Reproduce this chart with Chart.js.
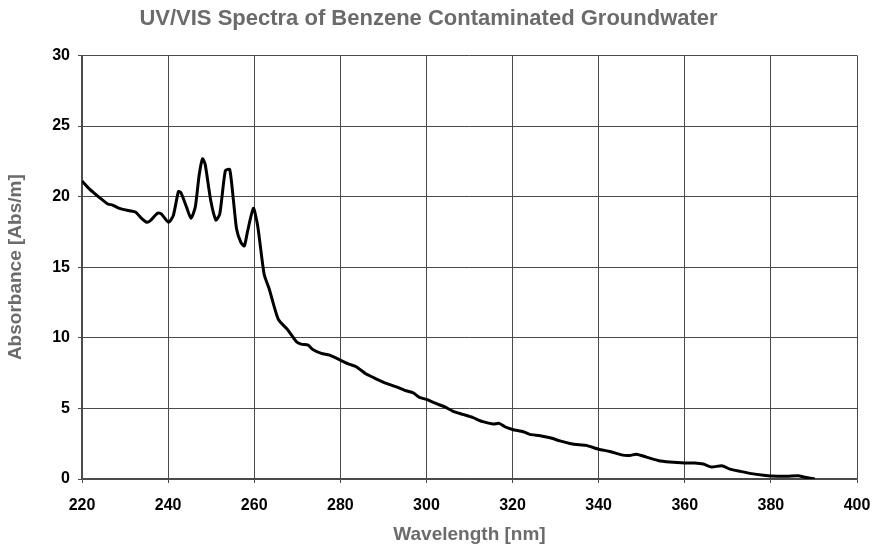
<!DOCTYPE html>
<html>
<head>
<meta charset="utf-8">
<title>UV/VIS Spectra of Benzene Contaminated Groundwater</title>
<script src="https://cdn.jsdelivr.net/npm/chart.js@4/dist/chart.umd.min.js"></script>
<style>
  html, body { margin: 0; padding: 0; background: #fff; }
  #wrap { width: 876px; height: 548px; }
</style>
</head>
<body>
<div id="wrap"><canvas id="myChart" width="876" height="548"></canvas></div>
<script>
// spectrum samples: wavelength in nm, absorbance in Abs/m
let wavelength = [220, 221.7, 224, 226, 227.1, 228.7, 231, 232.5, 233.7, 235.1, 236, 237.6, 238.4, 240.1, 241.2,
    242.4, 243, 244.3, 245.3, 246.3, 247.2, 248, 248.6, 249.9, 251.1, 252, 253.3, 254.3, 255.1, 255.9, 256.9,
    257.7, 258.4, 259.8, 260.8, 262.3, 263.5, 265.6, 267.7, 269.8, 270.9, 272.5, 273.6, 275.6, 277.5, 280,
    282.2, 283.7, 286, 288.4, 290.7, 293, 295.3, 296.9, 298.4, 300, 302.2, 304.2, 306.1, 308.4, 310.7, 313.1,
    315.5, 316.9, 318.2, 320, 322.5, 324, 326.4, 328.7, 331, 333.3, 335.5, 337.1, 340, 342.6, 345.3, 347.2,
    348.8, 351.1, 353.8, 356.5, 360, 362.3, 364.3, 366.2, 368.6, 370.5, 372.9, 375.5, 378.3, 380, 383.7,
    386.4, 387.6, 390.2];
let absorbance = [21.1, 20.55, 19.95, 19.48, 19.4, 19.17, 19.0, 18.89, 18.5, 18.18, 18.34, 18.84, 18.77, 18.18, 18.65,
    20.36, 20.26, 19.24, 18.46, 19.24, 21.5, 22.68, 22.3, 19.72, 18.34, 18.77, 21.85, 21.92, 19.95, 17.7, 16.75,
    16.5, 17.46, 19.17, 17.94, 14.5, 13.44, 11.3, 10.6, 9.72, 9.55, 9.48, 9.17, 8.9, 8.77, 8.42,
    8.11, 7.95, 7.43, 7.08, 6.77, 6.53, 6.25, 6.11, 5.78, 5.64, 5.35, 5.12, 4.81, 4.58, 4.36, 4.06,
    3.89, 3.94, 3.7, 3.51, 3.35, 3.16, 3.07, 2.92, 2.7, 2.52, 2.42, 2.38, 2.11, 1.95, 1.71, 1.67,
    1.76, 1.55, 1.31, 1.2, 1.13, 1.13, 1.06, 0.85, 0.94, 0.7, 0.54, 0.38, 0.26, 0.21, 0.19,
    0.23, 0.14, 0.0];

let points = wavelength.map((w, i) => {
    return { x: w, y: absorbance[i] };
});

const gridColor = '#4a4a4a';
const labelGray = '#6b6b6b';
const fontFamily = 'Liberation Sans, Arial, sans-serif';
const tickFont = { family: fontFamily, size: 16, weight: 'bold' };
const axisTitleFont = { family: fontFamily, size: 19, weight: 'bold' };

const ctx = document.getElementById('myChart').getContext('2d');
const myChart = new Chart(ctx, {
    type: 'line',
    data: {
        datasets: [{
            label: 'Absorbance',
            data: points,
            borderColor: '#000',
            borderWidth: 3,
            pointRadius: 0,
            tension: 0.2,
            fill: false
        }]
    },
    options: {
        responsive: false,
        animation: false,
        layout: { padding: { left: 0, right: 19, top: 0, bottom: 0 } },
        plugins: {
            legend: { display: false },
            tooltip: { enabled: false },
            title: {
                display: true,
                text: 'UV/VIS Spectra of Benzene Contaminated Groundwater',
                color: labelGray,
                font: { family: fontFamily, size: 22, weight: 'bold' },
                padding: { top: 6, bottom: 23 }
            }
        },
        scales: {
            x: {
                type: 'linear',
                min: 220,
                max: 400,
                ticks: { stepSize: 20, color: '#000', font: tickFont, padding: 13, maxRotation: 0 },
                grid: { color: gridColor, lineWidth: 1, tickLength: 4, tickColor: gridColor },
                border: { color: gridColor, width: 1.5 },
                title: {
                    display: true,
                    text: 'Wavelength [nm]',
                    color: labelGray,
                    font: axisTitleFont,
                    padding: { top: 2, bottom: 2 }
                },
                afterFit: (scale) => {
                    // the "400" label may hang into the right margin
                    scale.height = 69;
                    scale.paddingLeft = 0;
                    scale.paddingRight = 0;
                }
            },
            y: {
                min: 0,
                max: 30,
                ticks: { stepSize: 5, color: '#000', font: tickFont, padding: 8 },
                grid: { color: gridColor, lineWidth: 1, tickLength: 4, tickColor: gridColor },
                border: { color: gridColor, width: 1.5 },
                title: {
                    display: true,
                    text: 'Absorbance [Abs/m]',
                    color: labelGray,
                    font: axisTitleFont,
                    padding: { top: 4, bottom: 2 }
                },
                afterFit: (scale) => { scale.width = 82; }
            }
        }
    }
});
</script>
</body>
</html>
